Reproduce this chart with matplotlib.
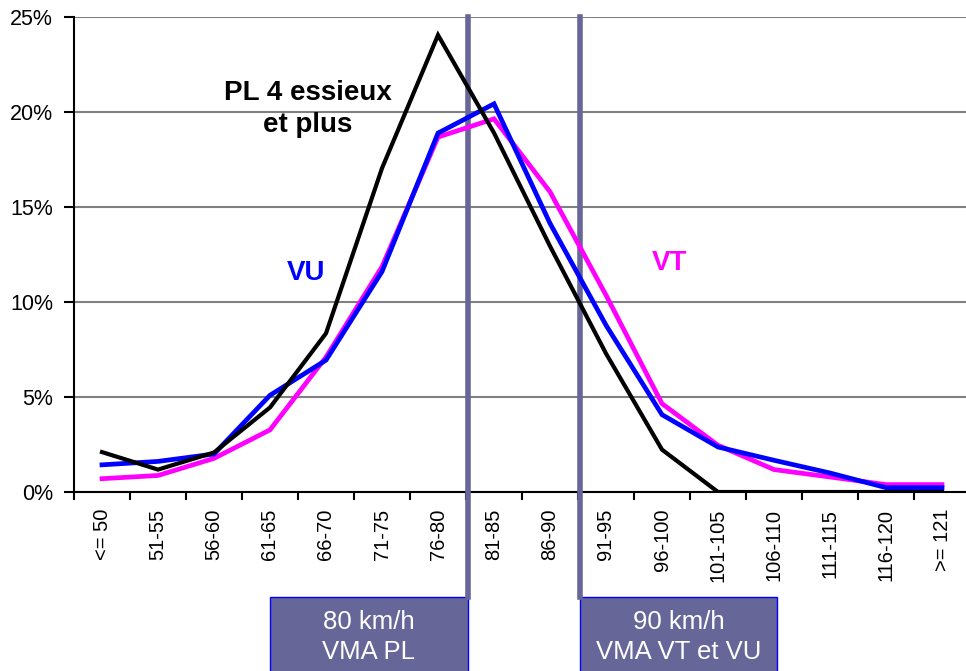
import matplotlib
matplotlib.use("Agg")
import matplotlib.pyplot as plt
from matplotlib.patches import Rectangle
from matplotlib.ticker import FuncFormatter

plt.rcParams['font.family'] = ['Liberation Sans', 'DejaVu Sans']

# speed classes (km/h)
classes = ['<= 50', '51-55', '56-60', '61-65', '66-70', '71-75', '76-80', '81-85',
           '86-90', '91-95', '96-100', '101-105', '106-110', '111-115', '116-120', '>= 121']

# share of vehicles per class (%)
vt = [0.7, 0.87, 1.77, 3.27, 7.1, 11.86, 18.68, 19.64, 15.8, 10.36, 4.65, 2.46, 1.18, 0.79, 0.39, 0.39]
vu = [1.43, 1.61, 2.0, 5.09, 6.94, 11.6, 18.89, 20.43, 14.14, 8.78, 4.07, 2.37, 1.67, 1.0, 0.23, 0.23]
pl4 = [2.1, 1.18, 2.08, 4.45, 8.35, 17.04, 24.05, 18.9, 12.94, 7.29, 2.23, 0, 0, 0, 0, 0]

y_ticks = [0, 5, 10, 15, 20, 25]

fig = plt.figure(figsize=(9.66, 6.71), dpi=100)
W, H = 966, 671
ax = fig.add_axes([74 / W, (H - 492) / H, 896 / W, 475 / H])

x = list(range(len(classes)))
ax.plot(x, vt, color='#ff00ff', lw=3.4, zorder=4, solid_joinstyle='miter')
ax.plot(x, vu, color='#0000ff', lw=3.4, zorder=5, solid_joinstyle='miter')
ax.plot(x, pl4, color='black', lw=3.0, zorder=6, solid_joinstyle='miter')

ax.set_xlim(-0.5, len(classes) - 0.5)
ax.set_ylim(0, 25)
ax.set_yticks(y_ticks)
ax.yaxis.set_major_formatter(FuncFormatter(lambda v, p: f"{v:.0f}%"))
ax.grid(axis='y', color='#808080', lw=1.5, zorder=1)
ax.set_axisbelow(True)

# categories between tick marks
ax.set_xticks([i + 0.5 for i in range(-1, len(classes))])
ax.set_xticklabels([])
ax.set_xticks(x, minor=True)
ax.set_xticklabels(classes, minor=True, rotation=90, fontsize=14.5)
ax.tick_params(axis='x', which='minor', length=0, pad=12)
ax.tick_params(axis='x', which='major', length=6, width=1.5, direction='out')
ax.tick_params(axis='y', length=7, width=1.5, labelsize=15.5, pad=8)

for s in ['top', 'right']:
    ax.spines[s].set_visible(False)
ax.spines['left'].set_linewidth(1.5)
ax.spines['bottom'].set_linewidth(1.5)

# speed limit markers
lim_color = '#666699'
for xv in [6.5, 8.5]:
    ax.axvline(xv + 0.03, ymin=-0.221, ymax=1, color=lim_color, lw=4, zorder=3, clip_on=False)

trans = ax.get_xaxis_transform()
boxes = [(3.0, 6.53, '80 km/h', 'VMA PL'), (8.53, 12.06, '90 km/h', 'VMA VT et VU')]
for x0, x1, l1, l2 in boxes:
    ax.add_patch(Rectangle((x0, -0.40), x1 - x0, 0.179, transform=trans,
                           facecolor=lim_color, edgecolor='#0000ff', lw=1, clip_on=False))
    ax.text((x0 + x1) / 2, -0.274, l1, transform=trans, ha='center', va='center',
            color='white', fontsize=18.5)
    ax.text((x0 + x1) / 2, -0.337, l2, transform=trans, ha='center', va='center',
            color='white', fontsize=18.5)

# series labels
ax.text(3.68, 21.0, 'PL 4 essieux', ha='center', va='center', fontsize=20, fontweight='bold', color='black')
ax.text(3.68, 19.3, 'et plus', ha='center', va='center', fontsize=20, fontweight='bold', color='black')
ax.text(3.64, 11.5, 'VU', ha='center', va='center', fontsize=20, fontweight='bold', color='#0000ff')
ax.text(10.13, 12.05, 'VT', ha='center', va='center', fontsize=20, fontweight='bold', color='#ff00ff')

fig.savefig('out.png', dpi=100)
